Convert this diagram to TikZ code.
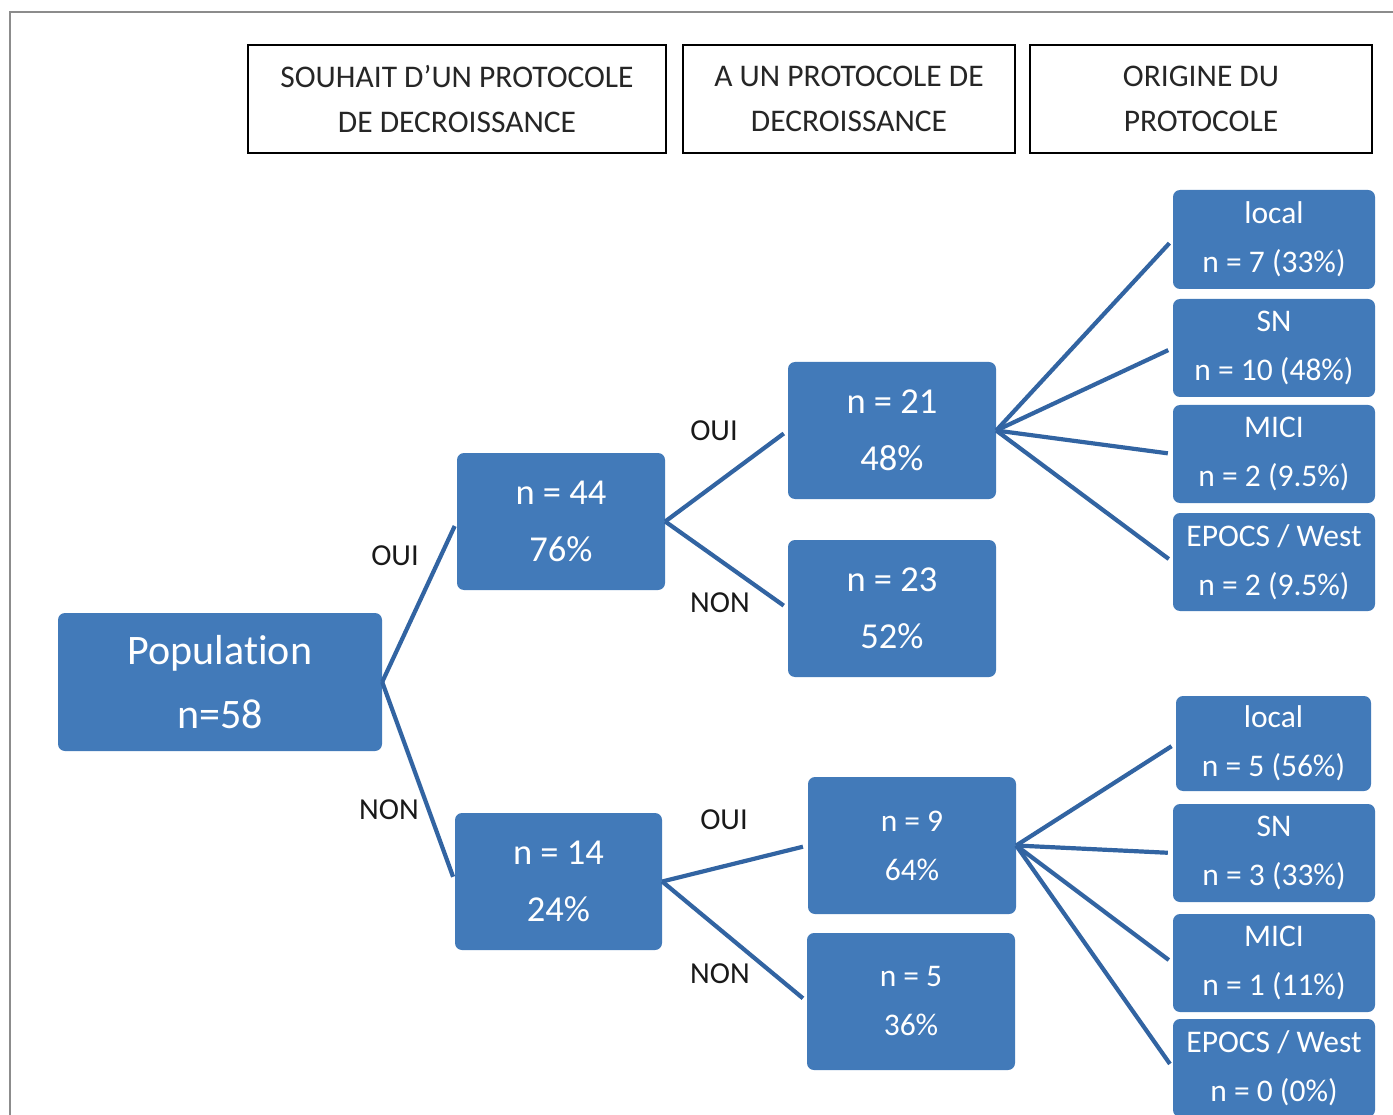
\documentclass[tikz,border=0pt]{standalone}
\usepackage{fontspec}
\setmainfont{Carlito}[Ligatures=NoCommon]
\definecolor{boxblue}{RGB}{66,122,185}
\definecolor{lineblue}{RGB}{50,100,162}
\definecolor{framegray}{RGB}{140,140,140}
\begin{document}
\begin{tikzpicture}[x=1pt,y=-1pt,
  hdr/.style={rectangle, draw=black, line width=1.6pt, fill=white, inner sep=0pt, align=center, text=black!85,
     font=\fontsize{31.5}{45}\selectfont},
  bx/.style={rectangle, rounded corners=7pt, fill=boxblue, text=white, inner sep=0pt, align=center},
  big/.style={font=\fontsize{36.5}{57}\selectfont},
  small/.style={font=\fontsize{31.5}{49}\selectfont},
  lbl/.style={text=black!90, font=\fontsize{30.5}{36}\selectfont, inner sep=0pt},
  conn/.style={draw=lineblue, line width=4.2pt, shorten >=5pt}]
\useasboundingbox (0,0) rectangle (1393,1115);
\fill[white] (0,0) rectangle (1393,1115);
% outer frame
\draw[framegray, line width=1.6pt] (10,1120) -- (10,12) -- (1400,12);
% headers
\node[hdr, minimum width=418pt, minimum height=108pt] (h1) at (457,99) {SOUHAIT D’UN PROTOCOLE\\DE DECROISSANCE};
\node[hdr, minimum width=332pt, minimum height=108pt] (h2) at (849,99) {A UN PROTOCOLE DE\\DECROISSANCE};
\node[hdr, minimum width=342pt, minimum height=108pt] (h3) at (1201,99) {ORIGINE DU\\PROTOCOLE};
% main boxes
\node[bx, minimum width=324pt, minimum height=138pt, font=\fontsize{42}{64}\selectfont] (pop) at (220,682) {Population\\n=58};
\node[bx, big, minimum width=208pt, minimum height=137pt] (n44) at (561,521.5) {n = 44\\76\%};
\node[bx, big, minimum width=207pt, minimum height=137pt] (n14) at (558.5,881.5) {n = 14\\24\%};
\node[bx, big, minimum width=208pt, minimum height=137pt] (n21) at (892,430.5) {n = 21\\48\%};
\node[bx, big, minimum width=208pt, minimum height=137pt] (n23) at (892,608.5) {n = 23\\52\%};
\node[bx, small, minimum width=208pt, minimum height=137pt] (n9) at (912,845.5) {n = 9\\64\%};
\node[bx, small, minimum width=208pt, minimum height=137pt] (n5) at (911,1001.5) {n = 5\\36\%};
% right column, top
\node[bx, small, minimum width=202pt, minimum height=99pt] (t1) at (1274,239.5) {local\\n = 7 (33\%)};
\node[bx, small, minimum width=202pt, minimum height=98pt] (t2) at (1274,348) {SN\\n = 10 (48\%)};
\node[bx, small, minimum width=202pt, minimum height=98pt] (t3) at (1274,454) {MICI\\n = 2 (9.5\%)};
\node[bx, small, minimum width=202pt, minimum height=98pt] (t4) at (1274,562) {EPOCS / West\\n = 2 (9.5\%)};
% right column, bottom
\node[bx, small, minimum width=195pt, minimum height=95pt] (b1) at (1273.5,743.5) {local\\n = 5 (56\%)};
\node[bx, small, minimum width=202pt, minimum height=98pt] (b2) at (1274,853) {SN\\n = 3 (33\%)};
\node[bx, small, minimum width=202pt, minimum height=98pt] (b3) at (1274,963) {MICI\\n = 1 (11\%)};
\node[bx, small, minimum width=202pt, minimum height=98pt] (b4) at (1274,1068) {EPOCS / West\\n = 0 (0\%)};
% connectors
\draw[conn] (pop.east) -- (n44.west);
\draw[conn] (pop.east) -- (n14.west);
\draw[conn] (n44.east) -- (n21.west);
\draw[conn] (n44.east) -- (n23.west);
\draw[conn] (n14.east) -- (n9.west);
\draw[conn] (n14.east) -- (n5.west);
\foreach \t in {t1,t2,t3,t4} \draw[conn] (n21.east) -- (\t.west);
\foreach \t in {b1,b2,b3,b4} \draw[conn] (n9.east) -- (\t.west);
% labels
\node[lbl] (l1) at (395,556) {OUI};
\node[lbl] (l2) at (389,810) {NON};
\node[lbl] (l3) at (714,431) {OUI};
\node[lbl] (l4) at (720,603) {NON};
\node[lbl] (l5) at (724,820) {OUI};
\node[lbl] (l6) at (720,974) {NON};
\end{tikzpicture}
\end{document}
